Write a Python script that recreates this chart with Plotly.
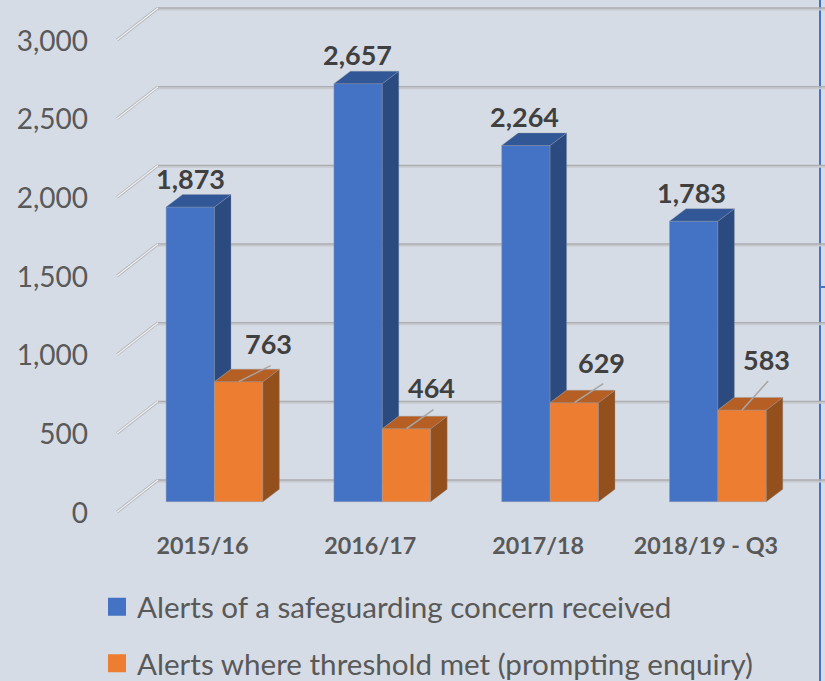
import plotly.graph_objects as go

categories = ["2015/16", "2016/17", "2017/18", "2018/19 - Q3"]
alerts = [1873, 2657, 2264, 1783]
threshold = [763, 464, 629, 583]
ticks = [0, 500, 1000, 1500, 2000, 2500, 3000]
blue_name = "Alerts of a safeguarding concern received"
orange_name = "Alerts where threshold met (prompting enquiry)"
# pixel offsets of hand-placed labels (dx, dy up)
blue_label_shift = [(0, 29), (-1, 29), (-1, 29), (-2, 29)]
orange_label_shift = [(30, 38), (25, 41), (27, 40), (24, 50)]
orange_leader_end = [(32, 16), (27, 19), (29, 19), (26, 29)]

W, H = 825, 681
BOTTOM = 525
PXX = 167.8            # px per category
PXY = 472 / 3000       # px per value
X0 = 214.5             # px of category 0 centre
Y0 = 501.7             # px of value 0 at bars' front
BW = 48.4 / PXX        # bar width in category units
DX = 16.5 / PXX        # depth of the bars
DY = 12.5 / PXY

def xd(px):
    return (px - X0) / PXX

def yd(px):
    return (Y0 - px) / PXY

fig = go.Figure()

# front faces
fig.add_bar(x=list(range(4)), y=alerts, name=blue_name, offsetgroup="a", width=BW, offset=-BW,
            marker=dict(color="#4472C4", line=dict(color="rgba(150,156,168,0.55)", width=0.8)), showlegend=False, hoverinfo="skip")
fig.add_bar(x=list(range(4)), y=threshold, name=orange_name, offsetgroup="b", width=BW, offset=0,
            marker=dict(color="#ED7D31", line=dict(color="rgba(150,156,168,0.55)", width=0.8)), showlegend=False, hoverinfo="skip")

def poly(xs, ys, color):
    fig.add_scatter(x=xs, y=ys, mode="lines", fill="toself", fillcolor=color,
                    line=dict(color="rgba(142,151,166,0.6)", width=0.6), showlegend=False, hoverinfo="skip")

for i, (a, b) in enumerate(zip(alerts, threshold)):
    # blue side (visible part above the orange top) and top
    poly([i, i + DX, i + DX, i, i], [a, a + DY, b + DY, b, a], "#2B4A80")
    poly([i - BW, i, i + DX, i - BW + DX, i - BW], [a, a, a + DY, a + DY, a], "#325797")
    # orange side and top
    poly([i + BW, i + BW + DX, i + BW + DX, i + BW, i + BW], [b, b + DY, DY, 0, b], "#94501C")
    poly([i, i + BW, i + BW + DX, i + DX, i], [b, b, b + DY, b + DY, b], "#B55F25")

# legend entries
fig.add_scatter(x=[None], y=[None], mode="markers", name=blue_name, legendgroup="a",
                marker=dict(symbol="square", size=16, color="#4472C4", line=dict(color="#4472C4", width=2)))
fig.add_scatter(x=[None], y=[None], mode="markers", name=orange_name, legendgroup="b",
                marker=dict(symbol="square", size=16, color="#ED7D31", line=dict(color="#ED7D31", width=2)))

# blue frame at the right edge of the picture, under the gridlines
shapes = [
    dict(type="line", layer="below", xref="x", yref="paper", x0=xd(820), x1=xd(820), y0=0, y1=1,
         line=dict(color="#4472C4", width=2)),
    dict(type="line", layer="below", x0=xd(820), x1=xd(825), y0=yd(287), y1=yd(287),
         line=dict(color="#4472C4", width=2)),
]
BACK = (Y0 - 480) / PXY
FRONT = (Y0 - 512) / PXY
for t in ticks:
    # back wall gridline (double stroke) and the floor/side diagonal
    shapes.append(dict(type="line", layer="below", x0=xd(158), x1=xd(825), y0=t + BACK - 1.5 / PXY, y1=t + BACK - 1.5 / PXY,
                       line=dict(color="#C6C9CE", width=2)))
    shapes.append(dict(type="line", layer="below", x0=xd(158), x1=xd(825), y0=t + BACK, y1=t + BACK,
                       line=dict(color="#ABADB1", width=1.3)))
    shapes.append(dict(type="line", layer="below", x0=xd(117), x1=xd(158), y0=t + FRONT, y1=t + BACK,
                       line=dict(color="#B5B8BD", width=3)))
    shapes.append(dict(type="line", layer="below", x0=xd(117), x1=xd(158), y0=t + FRONT, y1=t + BACK,
                       line=dict(color="#EEF0F3", width=1.2)))

annotations = []
for i, (v, (sx, sy)) in enumerate(zip(alerts, blue_label_shift)):
    annotations.append(dict(x=i - BW / 2, y=v, text=f"<b>{v:,}</b>", showarrow=False, xshift=sx, yshift=sy,
                            font=dict(family="Lato", size=27, color="#404040")))
for i, (v, (sx, sy), (ex, ey)) in enumerate(zip(threshold, orange_label_shift, orange_leader_end)):
    annotations.append(dict(x=i + BW / 2, y=v, text=f"<b>{v:,}</b>", showarrow=False, xshift=sx, yshift=sy,
                            font=dict(family="Lato", size=27, color="#404040")))
    shapes.append(dict(type="line", layer="above", xref="x", yref="y", xsizemode="pixel", ysizemode="pixel",
                       xanchor=i + BW / 2, yanchor=v, x0=0, y0=0, x1=ex, y1=ey,
                       line=dict(color="#A6A6A6", width=1.5)))

fig.update_layout(
    width=W, height=H, margin=dict(l=0, r=0, t=0, b=0, autoexpand=False),
    paper_bgcolor="#D6DCE5", plot_bgcolor="rgba(0,0,0,0)",
    barmode="overlay", shapes=shapes, annotations=annotations,
    font=dict(family="Lato", color="#595959"),
    legend=dict(x=97 / W, xanchor="left", y=1 - 581 / H, yanchor="top", bgcolor="rgba(0,0,0,0)",
                font=dict(family="Lato", size=29.6, color="#595959"), tracegroupgap=15),
    xaxis=dict(range=[xd(0), xd(W)], tickvals=list(range(4)), ticktext=[f"<b>{c}</b>" for c in categories],
               showgrid=False, zeroline=False, showline=False, ticks="",
               tickfont=dict(family="Lato", size=23.3, color="#595959"), ticklabelshift=-12, ticklabelstandoff=5),
    yaxis=dict(domain=[1 - BOTTOM / H, 1], range=[yd(BOTTOM), yd(0)], tickvals=ticks, tickformat=",",
               anchor="free", position=88 / W, showgrid=False, zeroline=False, showline=False, ticks="",
               ticklabelshift=11, tickfont=dict(family="Lato", size=28, color="#595959")),
)
fig.write_html("out.html", config=dict(displayModeBar=False),
               post_script="document.body.style.margin='0';document.body.style.background='#D6DCE5';document.documentElement.style.overflow='hidden';")
